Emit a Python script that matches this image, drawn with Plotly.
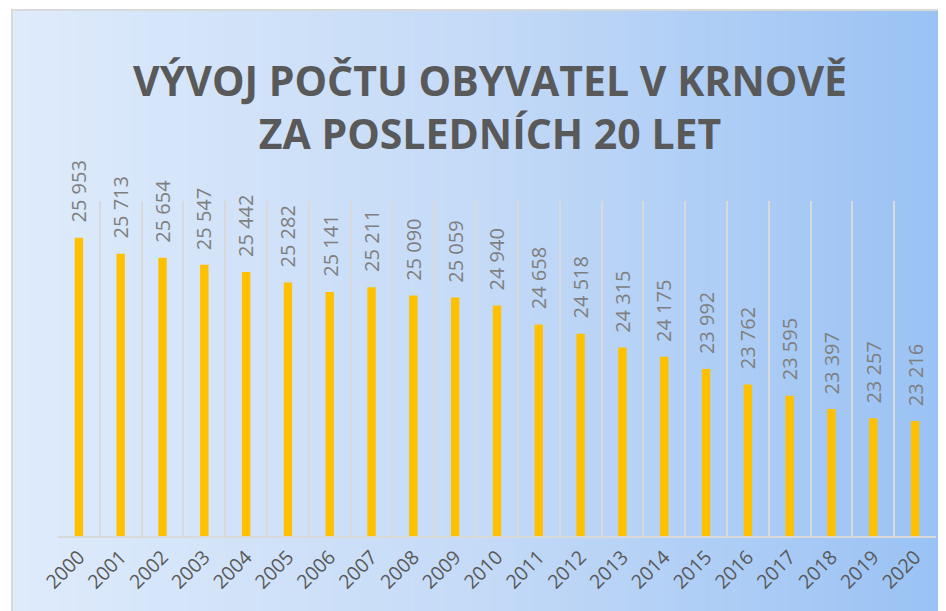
import plotly.graph_objects as go

years = [str(y) for y in range(2000, 2021)]
population = [25953, 25713, 25654, 25547, 25442, 25282, 25141, 25211, 25090, 25059,
              24940, 24658, 24518, 24315, 24175, 23992, 23762, 23595, 23397, 23257, 23216]
labels = [f"{v:,}".replace(",", " ") for v in population]

W, H = 946, 611
OFF = 8  # page body margin: the figure is drawn 8px right/down in the window
# plot area in window pixels
PL, PR, PT, PB = 58, 936, 201, 536
L, T = PL - OFF, PT - OFF
R, B = W - (PR - OFF), H - (PB - OFF)
pw, ph = W - L - R, H - T - B


def px_x(x):
    return (x - OFF - L) / pw


def px_y(y):
    return 1 - (y - OFF - T) / ph


def mix(c1, c2, t):
    return tuple(round(a + (b - a) * t) for a, b in zip(c1, c2))


# background gradient (left light -> right blue)
left_c, mid_c, right_c = (222, 235, 251), (196, 218, 247), (152, 193, 244)
shapes = []
n = 160
x0, x1 = 12, 960
for i in range(n):
    t = i / (n - 1)
    c = mix(left_c, mid_c, t * 2) if t < 0.5 else mix(mid_c, right_c, (t - 0.5) * 2)
    a = x0 + (x1 - x0) * i / n
    b = x0 + (x1 - x0) * (i + 1) / n + 0.8
    shapes.append(dict(type="rect", xref="paper", yref="paper", layer="below",
                       x0=px_x(a), x1=px_x(b), y0=px_y(630), y1=px_y(10),
                       fillcolor="rgb(%d,%d,%d)" % c, line_width=0))
# frame
shapes.append(dict(type="rect", xref="paper", yref="paper", layer="below",
                   x0=px_x(12), x1=px_x(980), y0=px_y(650), y1=px_y(10),
                   line=dict(color="#D9D9D9", width=2)))

fig = go.Figure(go.Bar(
    x=years, y=population, width=0.2,
    marker=dict(color="#FFC000", line_width=0),
    hoverinfo="x+y",
))

# data labels, placed by category index
for i, (v, lab) in enumerate(zip(population, labels)):
    fig.add_annotation(x=i, y=v, text=lab, textangle=-90, showarrow=False,
                       yanchor="bottom", xanchor="center", yshift=13,
                       font=dict(family="Open Sans", size=20, color="#7F7F7F"))

fig.update_layout(
    width=W, height=H,
    margin=dict(l=L, r=R, t=T, b=B, autoexpand=False),
    paper_bgcolor="white",
    plot_bgcolor="rgba(0,0,0,0)",
    shapes=shapes,
    showlegend=False,
    title=dict(text="VÝVOJ POČTU OBYVATEL V KRNOVĚ<br>ZA POSLEDNÍCH 20 LET",
               xref="container", yref="container", x=(490 - OFF) / W, y=1 - 88 / H,
               xanchor="center", yanchor="middle",
               font=dict(family="Open Sans", size=41, color="#595959", weight="bold")),
    xaxis=dict(type="category", tickson="boundaries", showgrid=True,
               range=[-0.5, len(years) - 0.5], automargin=False,
               gridcolor="#D9D9D9", gridwidth=1.5,
               showline=True, linecolor="#D9D9D9", linewidth=2,
               ticks="outside", ticklen=18, tickcolor="rgba(0,0,0,0)", tickangle=-45,
               tickfont=dict(family="Open Sans", size=19.5, color="#595959")),
    yaxis=dict(range=[21500, 26500], visible=False, showgrid=False, automargin=False),
)

fig.write_html("out.html")
